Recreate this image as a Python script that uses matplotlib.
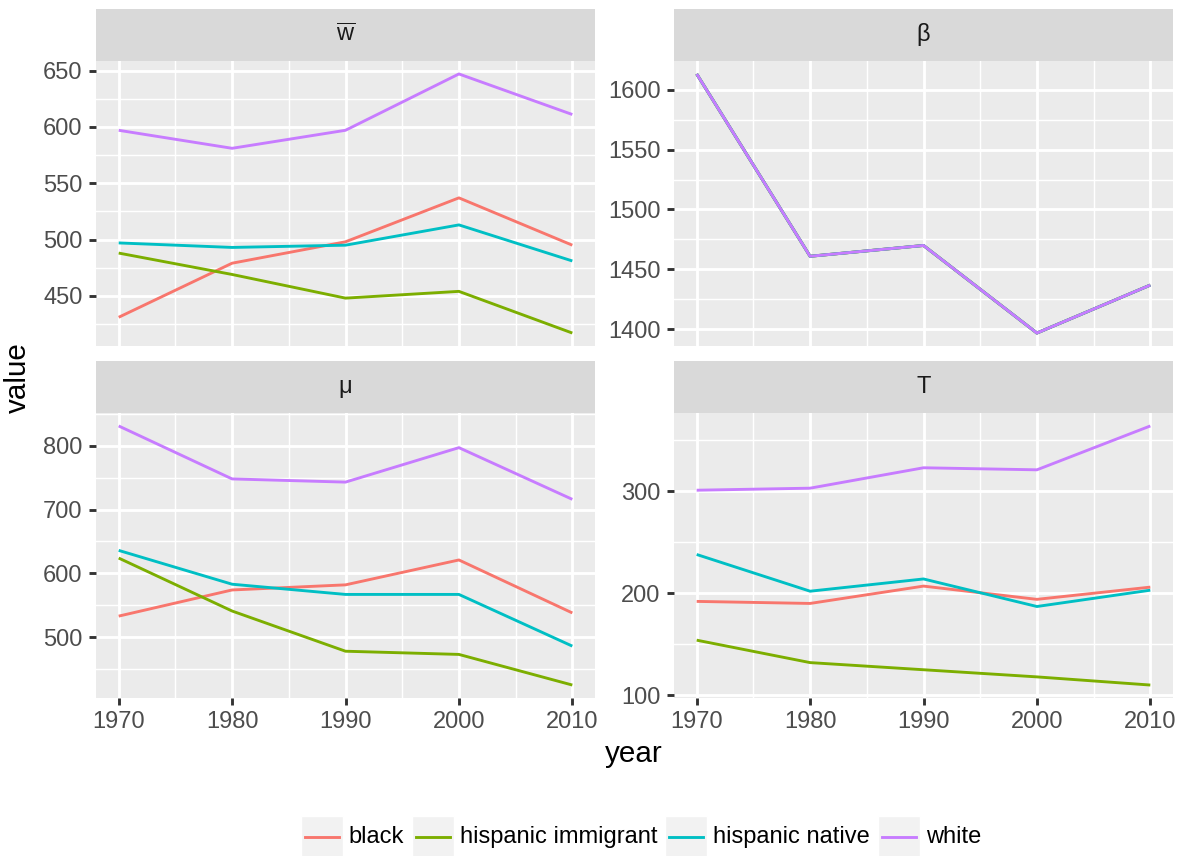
import matplotlib
matplotlib.use("Agg")
import matplotlib.pyplot as plt
import numpy as np
from matplotlib.patches import Rectangle
from matplotlib.lines import Line2D

plt.rcParams["font.family"] = ["Liberation Sans", "DejaVu Sans"]
plt.rcParams["mathtext.fontset"] = "custom"
plt.rcParams["mathtext.rm"] = "Liberation Sans"
plt.rcParams["mathtext.it"] = "Liberation Sans"

# ---- data -------------------------------------------------------------
years = [1970, 1980, 1990, 2000, 2010]
groups = ["black", "hispanic immigrant", "hispanic native", "white"]
colors = ["#F8766D", "#7CAE00", "#00BFC4", "#C77CFF"]

wbar_black = [431, 479, 498, 537, 495]
wbar_hisp_imm = [488, 469, 448, 454, 417]
wbar_hisp_nat = [497, 493, 495, 513, 481]
wbar_white = [597, 581, 597, 647, 611]

beta_black = [1613, 1461, 1470, 1397, 1437]
beta_hisp_imm = [1613, 1461, 1470, 1397, 1437]
beta_hisp_nat = [1613, 1461, 1470, 1397, 1437]
beta_white = [1613, 1461, 1470, 1397, 1437]

mu_black = [533, 574, 582, 621, 538]
mu_hisp_imm = [624, 541, 478, 473, 425]
mu_hisp_nat = [636, 583, 567, 567, 486]
mu_white = [831, 748, 743, 797, 716]

T_black = [192, 190, 207, 194, 206]
T_hisp_imm = [154, 132, 125, 118, 110]
T_hisp_nat = [238, 202, 214, 187, 203]
T_white = [301, 303, 323, 321, 364]

x_ticks = [1970, 1980, 1990, 2000, 2010]

panels = [
    (r"$\overline{\mathrm{w}}$", [wbar_black, wbar_hisp_imm, wbar_hisp_nat, wbar_white], 50),
    ("β", [beta_black, beta_hisp_imm, beta_hisp_nat, beta_white], 50),
    ("μ", [mu_black, mu_hisp_imm, mu_hisp_nat, mu_white], 100),
    ("T", [T_black, T_hisp_imm, T_hisp_nat, T_white], 100),
]

# ---- layout (pixel geometry) -------------------------------------------
W, H = 1185, 856
fig = plt.figure(figsize=(W / 100, H / 100), dpi=100)
fig.patch.set_facecolor("white")

col_x = [(96, 595), (674, 1173)]
row_y = [(61, 346), (413, 698)]   # plot area top/bottom
strip_h = 52

FS_TICK = 17
FS_TITLE = 21.3
LW_MAJOR = 2.07
LW_MINOR = 1.03


def frac_box(x0, x1, ytop, ybot):
    return [x0 / W, 1 - ybot / H, (x1 - x0) / W, (ybot - ytop) / H]


def expand(lo, hi, f=0.05):
    d = (hi - lo) * f
    return lo - d, hi + d


def minor_between(major, step, lim):
    b = list(major)
    if lim[0] < b[0]:
        b = [b[0] - step] + b
    if lim[1] > b[-1]:
        b = b + [b[-1] + step]
    mids = [(b[i] + b[i + 1]) / 2 for i in range(len(b) - 1)]
    return [m for m in mids if lim[0] <= m <= lim[1]]


xlim = expand(min(years), max(years))

for idx, (label, series, ystep) in enumerate(panels):
    r, c = divmod(idx, 2)
    x0, x1 = col_x[c]
    yt, yb = row_y[r]
    ax = fig.add_axes(frac_box(x0, x1, yt, yb))
    ax.set_facecolor("#EBEBEB")
    for s in ax.spines.values():
        s.set_visible(False)

    allv = np.concatenate([np.asarray(v, float) for v in series])
    ylim = expand(allv.min(), allv.max())
    ymaj = np.arange(np.ceil(ylim[0] / ystep) * ystep, ylim[1] + 1e-9, ystep)

    ax.set_xlim(*xlim)
    ax.set_ylim(*ylim)

    # grid
    for xm in minor_between(x_ticks, 10, xlim):
        ax.axvline(xm, color="white", lw=LW_MINOR, zorder=0.5)
    for ym in minor_between(list(ymaj), ystep, ylim):
        ax.axhline(ym, color="white", lw=LW_MINOR, zorder=0.5)
    for xm in x_ticks:
        ax.axvline(xm, color="white", lw=LW_MAJOR, zorder=0.6)
    for ym in ymaj:
        ax.axhline(ym, color="white", lw=LW_MAJOR, zorder=0.6)

    for vals, col in zip(series, colors):
        ax.plot(years, vals, color=col, lw=LW_MAJOR, solid_capstyle="butt", zorder=2)

    ax.set_yticks(ymaj)
    ax.set_yticklabels([f"{int(v)}" for v in ymaj])
    ax.set_xticks(x_ticks)
    ax.tick_params(axis="both", colors="#333333", length=5.3, width=LW_MAJOR,
                   labelsize=FS_TICK, labelcolor="#4D4D4D", pad=4.3)
    if r == 0:
        ax.tick_params(axis="x", length=0, labelbottom=False)
    else:
        ax.set_xticklabels([str(v) for v in x_ticks])

    # strip
    sax = fig.add_axes(frac_box(x0, x1, yt - strip_h, yt))
    sax.set_facecolor("#D9D9D9")
    sax.set_xticks([])
    sax.set_yticks([])
    for s in sax.spines.values():
        s.set_visible(False)
    sax.text(0.5, 0.5, label, ha="center", va="center", fontsize=FS_TICK,
             color="#1A1A1A", transform=sax.transAxes)

# axis titles
fig.text(18 / W, 1 - 378 / H, "value", rotation=90, ha="center", va="center",
         fontsize=FS_TITLE, color="black")
fig.text(634 / W, 1 - 754 / H, "year", ha="center", va="center",
         fontsize=FS_TITLE, color="black")

# ---- legend ------------------------------------------------------------
fig.canvas.draw()
renderer = fig.canvas.get_renderer()
key = 42
gap_text = 6
gap_item = 8
cy = 837

widths = []
for g in groups:
    t = fig.text(0, 0, g, fontsize=FS_TICK)
    widths.append(t.get_window_extent(renderer).width)
    t.remove()

total = sum(key + gap_text + w for w in widths) + gap_item * (len(groups) - 1)
x = 641 - total / 2
for g, col, w in zip(groups, colors, widths):
    fig.add_artist(Rectangle((x / W, 1 - (cy + key / 2) / H), key / W, key / H,
                             transform=fig.transFigure, facecolor="#F2F2F2",
                             edgecolor="white", lw=1))
    fig.add_artist(Line2D([(x + 4) / W, (x + key - 4) / W], [1 - cy / H, 1 - cy / H],
                          transform=fig.transFigure, color=col, lw=LW_MAJOR))
    fig.text((x + key + gap_text) / W, 1 - cy / H, g, ha="left", va="center",
             fontsize=FS_TICK, color="black")
    x += key + gap_text + w + gap_item

fig.savefig("out.png", dpi=100, facecolor="white")
